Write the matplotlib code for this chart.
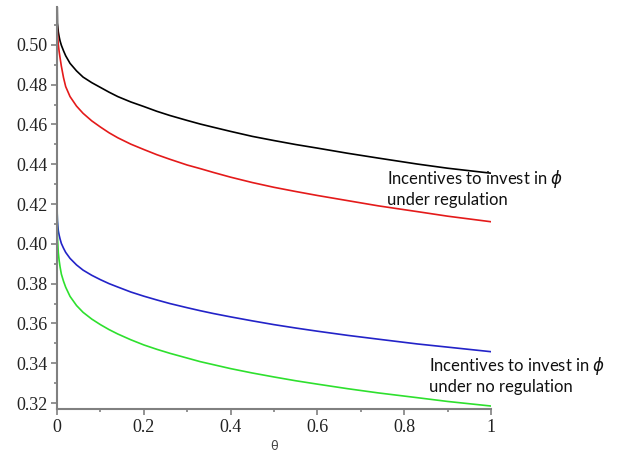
import numpy as np
import matplotlib
matplotlib.use("Agg")
import matplotlib.pyplot as plt
from matplotlib.ticker import MultipleLocator, FormatStrFormatter

# theta grid (denser near zero where the curves bend sharply)
theta = [0.0, 0.001, 0.003, 0.005, 0.007, 0.01, 0.015, 0.02, 0.03, 0.045,
         0.06, 0.08, 0.1, 0.12, 0.14, 0.17, 0.2, 0.23, 0.26, 0.3, 0.33, 0.36,
         0.4, 0.45, 0.5, 0.55, 0.6, 0.67, 0.74, 0.83, 0.9, 1.0]

# incentives under regulation
reg_upper = [0.5300, 0.5110, 0.5065, 0.5040, 0.5020, 0.4998, 0.4970, 0.4945,
             0.4907, 0.4869, 0.4838, 0.4810, 0.4786, 0.4762, 0.4740, 0.4713,
             0.4690, 0.4666, 0.4645, 0.4620, 0.4602, 0.4586, 0.4565, 0.4540,
             0.4519, 0.4499, 0.4481, 0.4455, 0.4431, 0.4401, 0.4380, 0.4355]
reg_lower = [0.5120, 0.5060, 0.5000, 0.4965, 0.4935, 0.4893, 0.4835, 0.4790,
             0.4740, 0.4692, 0.4656, 0.4618, 0.4587, 0.4558, 0.4533, 0.4501,
             0.4474, 0.4448, 0.4425, 0.4396, 0.4378, 0.4359, 0.4335, 0.4308,
             0.4284, 0.4263, 0.4243, 0.4217, 0.4191, 0.4162, 0.4139, 0.4111]

# incentives under no regulation
noreg_upper = [0.4175, 0.4115, 0.4065, 0.4043, 0.4025, 0.4002, 0.3978, 0.3957,
               0.3927, 0.3894, 0.3868, 0.3842, 0.3820, 0.3800, 0.3783, 0.3758,
               0.3737, 0.3718, 0.3700, 0.3679, 0.3664, 0.3650, 0.3633, 0.3613,
               0.3594, 0.3577, 0.3561, 0.3540, 0.3521, 0.3497, 0.3481, 0.3458]
noreg_lower = [0.4240, 0.4035, 0.3955, 0.3915, 0.3885, 0.3848, 0.3812, 0.3782,
               0.3736, 0.3690, 0.3656, 0.3622, 0.3594, 0.3569, 0.3547, 0.3518,
               0.3492, 0.3470, 0.3450, 0.3426, 0.3408, 0.3393, 0.3373, 0.3351,
               0.3331, 0.3312, 0.3295, 0.3272, 0.3251, 0.3227, 0.3208, 0.3185]

fig = plt.figure(figsize=(6.17, 4.53), dpi=100)
ax = fig.add_axes([0.0924, 0.0971, 0.7034, 0.8874])

lw = 1.2
ax.plot(theta, reg_upper, color="black", lw=lw)
ax.plot(theta, reg_lower, color="#e41a1a", lw=lw)
ax.plot(theta, noreg_upper, color="#2323c8", lw=lw)
ax.plot(theta, noreg_lower, color="#2ee02e", lw=lw)

ax.set_xlim(0, 1)
ax.set_ylim(0.317, 0.519)

for side in ("top", "right"):
    ax.spines[side].set_visible(False)
for side in ("left", "bottom"):
    ax.spines[side].set_color("#808080")
    ax.spines[side].set_linewidth(1.5)

ax.xaxis.set_major_locator(MultipleLocator(0.2))
ax.xaxis.set_minor_locator(MultipleLocator(0.1))
ax.yaxis.set_major_locator(MultipleLocator(0.02))
ax.yaxis.set_minor_locator(MultipleLocator(0.01))
ax.yaxis.set_major_formatter(FormatStrFormatter("%.2f"))
ax.set_xticks([0, 0.2, 0.4, 0.6, 0.8, 1.0])
ax.set_xticklabels(["0", "0.2", "0.4", "0.6", "0.8", "1"])

ax.tick_params(which="both", direction="out", color="#808080", width=1.2)
ax.tick_params(which="major", length=4, pad=3, labelsize=13,
               labelcolor="#222222", labelfontfamily="Liberation Serif")
ax.tick_params(which="minor", length=2.5)

ax.set_xlabel("θ", fontsize=9, color="#444444", labelpad=3)

txt = dict(fontsize=12, family="Lato", color="#111111", va="baseline")
ax.text(0.760, 0.4300, r"Incentives to invest in $\phi$", **txt)
ax.text(0.760, 0.4195, "under regulation", **txt)
ax.text(0.857, 0.3362, r"Incentives to invest in $\phi$", **txt)
ax.text(0.857, 0.3258, "under no regulation", **txt)

fig.savefig("out.png", dpi=100)
